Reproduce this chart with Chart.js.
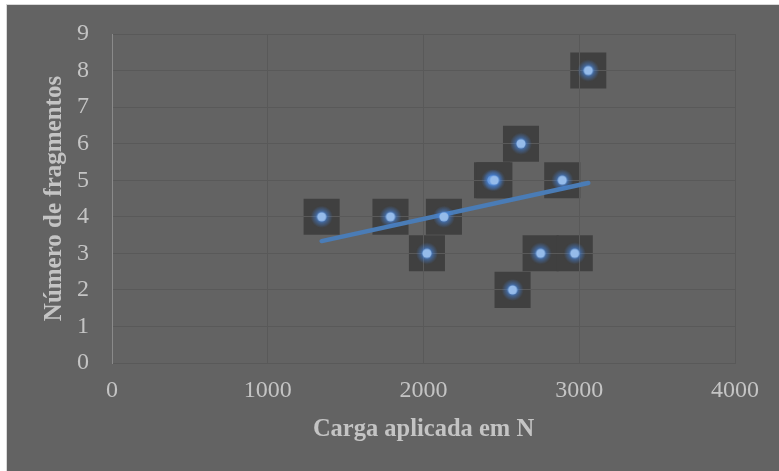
<!DOCTYPE html>
<html>
<head>
<meta charset="utf-8">
<script src="https://cdn.jsdelivr.net/npm/chart.js@4/dist/chart.umd.min.js"></script>
<style>
  html, body { margin: 0; padding: 0; background: #ffffff; }
  #frame {
    position: absolute; left: 6px; top: 4px;
    width: 773px; height: 467px;
    border-top: 1px solid #d9d9d9; border-left: 1px solid #d9d9d9;
    background: #636363;
  }
  #wrap { position: absolute; left: 0; top: 0; width: 773px; height: 467px; }
</style>
</head>
<body>
<div id="frame"><div id="wrap"><canvas id="c"></canvas></div></div>
<script>
// Applied load (N) and number of fragments per specimen
const loadN = [1346, 1788, 2022, 2131, 2440, 2455, 2572, 2626, 2752, 2891, 2971, 3058];
const fragments = [4, 4, 3, 4, 5, 5, 2, 6, 3, 5, 3, 8];

const xTicks = [0, 1000, 2000, 3000, 4000];
const yTicks = [0, 1, 2, 3, 4, 5, 6, 7, 8, 9];

const xTitle = 'Carga aplicada em N';
const yTitle = 'Número de fragmentos';

// Least-squares linear trendline over the measured points
function linearTrend(xs, ys) {
  const n = xs.length;
  const mx = xs.reduce((a, b) => a + b, 0) / n;
  const my = ys.reduce((a, b) => a + b, 0) / n;
  let sxy = 0, sxx = 0;
  for (let i = 0; i < n; i++) {
    sxy += (xs[i] - mx) * (ys[i] - my);
    sxx += (xs[i] - mx) * (xs[i] - mx);
  }
  const slope = sxy / sxx;
  const icpt = my - slope * mx;
  const x0 = Math.min(...xs), x1 = Math.max(...xs);
  return [{ x: x0, y: icpt + slope * x0 }, { x: x1, y: icpt + slope * x1 }];
}

const points = loadN.map((x, i) => ({ x: x, y: fragments[i] }));
const trend = linearTrend(loadN, fragments);

// Glowing dot marker, pre-rendered once and used as the point style
function glowDot() {
  const size = 30, c = document.createElement('canvas');
  c.width = size; c.height = size;
  const g = c.getContext('2d');
  const m = size / 2;
  const halo = g.createRadialGradient(m, m, 3, m, m, 11);
  halo.addColorStop(0, 'rgba(70,135,225,0.9)');
  halo.addColorStop(0.45, 'rgba(70,130,215,0.45)');
  halo.addColorStop(1, 'rgba(70,130,215,0)');
  g.fillStyle = halo;
  g.beginPath(); g.arc(m, m, 11, 0, Math.PI * 2); g.fill();
  g.fillStyle = '#95bbea';
  g.beginPath(); g.arc(m, m, 4.6, 0, Math.PI * 2); g.fill();
  return c;
}

const serif = "'Liberation Serif', 'DejaVu Serif', serif";
const textColor = '#c4c4c4';
const gridColor = '#595959';

// Dark marker backgrounds sit under the gridlines
const layering = {
  id: 'layering',
  afterDatasetDraw(chart, args) {
    if (args.index === 2) {
      const ca = chart.chartArea;
      ['x', 'y'].forEach(k => {
        const s = chart.scales[k];
        if (s.drawGrid) s.drawGrid(ca);
      });
      ['x', 'y'].forEach(k => {
        const s = chart.scales[k];
        if (s.drawBorder) s.drawBorder();
      });
    }
  }
};

new Chart(document.getElementById('c'), {
  type: 'scatter',
  data: {
    datasets: [
      {
        label: 'pontos',
        data: points,
        pointStyle: glowDot(),
        pointRadius: 5,
        pointHoverRadius: 5,
        order: 0
      },
      {
        type: 'line',
        label: 'tendência',
        data: trend,
        borderColor: '#4a7cb6',
        borderWidth: 4.5,
        borderCapStyle: 'round',
        pointRadius: 0,
        fill: false,
        order: 1
      },
      {
        label: 'fundo',
        data: points,
        pointStyle: 'rect',
        pointRadius: 25.5,
        pointHoverRadius: 25.5,
        backgroundColor: '#404040',
        borderWidth: 0,
        order: 2
      }
    ]
  },
  options: {
    responsive: true,
    maintainAspectRatio: false,
    animation: false,
    events: [],
    layout: { autoPadding: false, padding: { top: 29, right: 45, left: 0, bottom: 0 } },
    plugins: {
      legend: { display: false },
      tooltip: { enabled: false }
    },
    scales: {
      x: {
        type: 'linear',
        min: 0, max: 4000,
        afterBuildTicks: s => { s.ticks = xTicks.map(v => ({ value: v })); },
        afterFit: s => { s.height = 109; },
        grid: { color: gridColor, lineWidth: 1, drawTicks: false },
        border: { color: gridColor, width: 1 },
        ticks: {
          color: textColor,
          font: { family: serif, size: 24 },
          padding: 13,
          maxRotation: 0,
          callback: v => String(v)
        },
        title: {
          display: true,
          text: xTitle,
          color: textColor,
          font: { family: serif, size: 24.5, weight: 'bold' },
          padding: { top: 0, bottom: 28 }
        }
      },
      y: {
        type: 'linear',
        min: 0, max: 9,
        afterBuildTicks: s => { s.ticks = yTicks.map(v => ({ value: v })); },
        afterFit: s => { s.width = 105; },
        grid: {
          color: gridColor, lineWidth: 1,
          drawTicks: true, tickLength: 20, tickColor: 'rgba(0,0,0,0)'
        },
        border: { color: '#8a8a8a', width: 1 },
        ticks: {
          color: textColor,
          font: { family: serif, size: 24 },
          padding: 3,
          callback: v => String(v)
        },
        title: {
          display: true,
          text: yTitle,
          color: textColor,
          font: { family: serif, size: 25, weight: 'bold' },
          padding: { top: 33, bottom: 0 }
        }
      }
    }
  },
  plugins: [layering]
});
</script>
</body>
</html>
